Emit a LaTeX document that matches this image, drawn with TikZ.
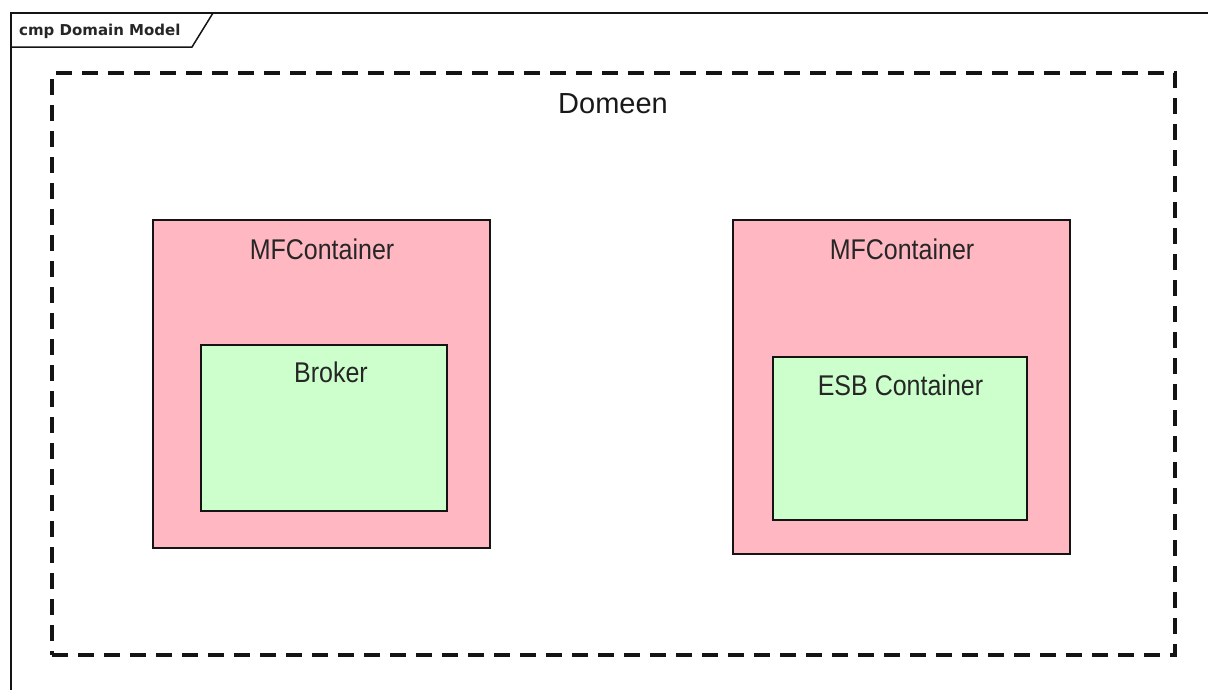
\documentclass[tikz,border=0pt]{standalone}
\usepackage{fontspec}
\setmainfont{Liberation Sans}
\newfontfamily\framefont{DejaVu Sans}
\definecolor{mfpink}{RGB}{255,183,194}
\definecolor{innergreen}{RGB}{204,255,204}
\definecolor{inkline}{RGB}{20,20,20}
% labels in the model are set slightly taller than the plain face
\newcommand\talltext[1]{\scalebox{1}[1.14]{#1}}
\begin{document}
\begin{tikzpicture}[x=1pt,y=-1pt,
  box/.style={draw=inkline, line width=2.6pt, inner sep=0pt, rectangle},
  mfbox/.style={box, fill=mfpink},
  greenbox/.style={box, fill=innergreen},
  domainbox/.style={draw=inkline, line width=3.2pt, dash pattern=on 16pt off 10pt, inner sep=0pt, rectangle},
  lbl/.style={font=\fontsize{25}{28}\selectfont, text=black!85, anchor=base, inner sep=0pt},
  biglbl/.style={font=\fontsize{29}{32}\selectfont, text=black!90, anchor=base, inner sep=0pt},
  framelbl/.style={font=\framefont\bfseries\fontsize{15}{17}\selectfont, text=black!85, anchor=base west, inner sep=0pt}
]
\useasboundingbox[fill=white] (0,0) rectangle (1208,689);
\begin{scope}
\clip (0,0) rectangle (1208,689);
% diagram frame with its name tab
\coordinate (fTL) at (11,13);
\coordinate (tabR) at (213,13);
\coordinate (tabS) at (192,47);
\coordinate (tabL) at (11,47);
\draw[line width=1.5pt, inkline] (11,700) -- (fTL) -- (1220,13);
\draw[line width=1.5pt, inkline] (tabR) -- (tabS) -- (tabL);
\end{scope}
\node[framelbl] (fname) at (19,35) {cmp Domain Model};

% domain boundary
\node[domainbox, minimum width=1123, minimum height=582] (dom) at (613.5,364) {};
\node[biglbl] (domlbl) at (613,113) {Domeen};

% left container with broker
\node[mfbox, minimum width=337, minimum height=328] (mf1) at (321.5,384) {};
\node[lbl] (mf1lbl) at (322,259) {\talltext{MFContainer}};
\node[greenbox, minimum width=246, minimum height=166] (broker) at (324,428) {};
\node[lbl] (brokerlbl) at (331,382) {\talltext{Broker}};

% right container with ESB container
\node[mfbox, minimum width=337, minimum height=334] (mf2) at (901.5,387) {};
\node[lbl] (mf2lbl) at (902,259) {\talltext{MFContainer}};
\node[greenbox, minimum width=254, minimum height=163] (esb) at (900,438.5) {};
\node[lbl] (esblbl) at (900.5,395) {\talltext{ESB Container}};
\end{tikzpicture}
\end{document}
